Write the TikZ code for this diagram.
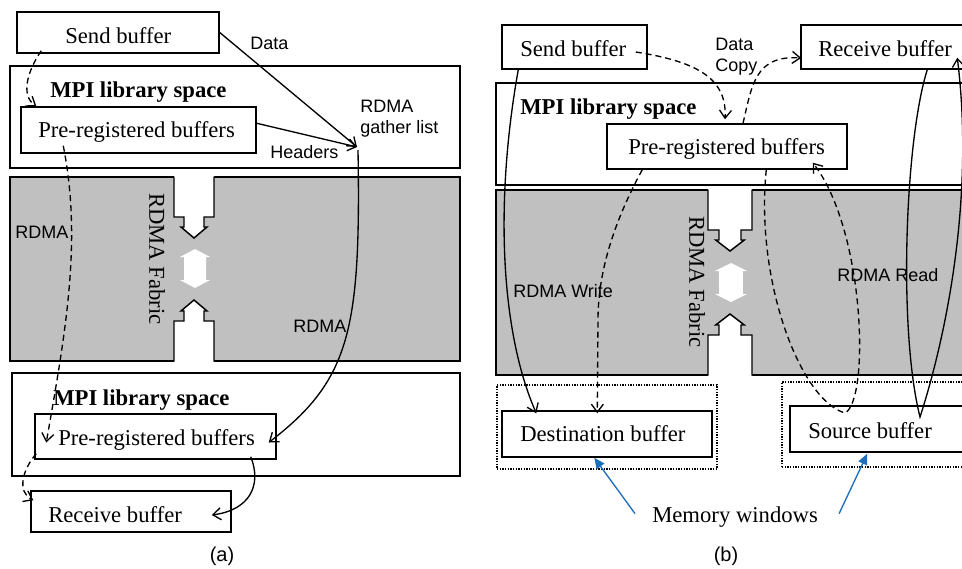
\documentclass[tikz,border=0pt]{standalone}
\usepackage{fontspec}
\setmainfont{Liberation Serif}
\newfontfamily\labelfont{Liberation Sans}
\usetikzlibrary{arrows.meta,calc,fit}

\definecolor{fabricgray}{RGB}{192,192,192}
\definecolor{winblue}{RGB}{30,110,185}

\tikzset{
  box/.style={draw, line width=1.1pt, inner sep=0pt, fill=white},
  fabric/.style={draw, line width=1.1pt, inner sep=0pt, fill=fabricgray},
  window/.style={draw, line width=0.9pt, inner sep=0pt, dash pattern=on 0.9pt off 1.1pt},
  txt/.style={inner sep=0pt, anchor=base west, font=\fontsize{17}{20}\selectfont},
  headtxt/.style={inner sep=0pt, anchor=base west, font=\fontsize{17}{20}\selectfont\bfseries},
  lbl/.style={inner sep=0pt, anchor=base west, font=\labelfont\fontsize{13.5}{16}\selectfont},
  fabtxt/.style={inner sep=0pt, rotate=-90, font=\fontsize{17}{20}\selectfont},
  caption/.style={inner sep=0pt, font=\labelfont\fontsize{15}{18}\selectfont},
  flow/.style={line width=1pt, -{Straight Barb[length=6pt,width=9pt]}},
  dflow/.style={flow, dash pattern=on 4.5pt off 3pt},
  pointer/.style={line width=1pt, draw=winblue, -{Triangle[length=8pt,width=7pt]}, color=winblue},
  plugline/.style={line width=1.1pt, line join=miter},
  plug/.pic={
    \fill[white] (-20,-2) -- (20,-2) -- (20,40) -- (10,40) -- (10,50) -- (13,50)
      -- (0,61) -- (-13,50) -- (-10,50) -- (-10,40) -- (-20,40) -- cycle;
    \draw[plugline] (20,-0.5) -- (20,40) -- (10,40) -- (10,50) -- (13,50)
      -- (0,61) -- (-13,50) -- (-10,50) -- (-10,40) -- (-20,40) -- (-20,-0.5);
  },
  dblarrow/.pic={
    \fill[white] (0,0) -- (15,8) -- (11,8) -- (11,31) -- (15,31) -- (0,39)
      -- (-15,31) -- (-11,31) -- (-11,8) -- (-15,8) -- cycle;
  }
}

\begin{document}
\begin{tikzpicture}[x=0.75pt,y=-0.75pt]
  \clip (0,0) rectangle (962,568);
  \fill[white] (0,0) rectangle (962,568);

  % ---------------- (a) eager protocol over pre-registered buffers ----------------
  \node[box, fit={(10,66) (460,168)}] (mpiA) {};
  \node[fabric, fit={(10,177) (460,361)}] (fabA) {};
  \node[box, fit={(12,373) (460,476)}] (mpiA2) {};
  \node[box, fit={(17,12) (219,53)}] (sendA) {};
  \node[box, fit={(21,107) (256,153)}] (preA) {};
  \node[box, fit={(35,414) (276,459)}] (preA2) {};
  \node[box, fit={(31,491) (231,532)}] (recvA) {};

  \pic at (194,177) {plug};
  \pic[yscale=-1] at (194,361) {plug};
  \pic at (195,249) {dblarrow};

  \node[txt] at (65,43) {Send buffer};
  \node[headtxt] at (50,97) {MPI library space};
  \node[txt] at (38,137) {Pre-registered buffers};
  \node[fabtxt] at (157,259) {RDMA Fabric};
  \node[headtxt] at (53,405) {MPI library space};
  \node[txt] at (58,445) {Pre-registered buffers};
  \node[txt] at (48,522) {Receive buffer};
  \node[caption] at (222,556) {(a)};

  \node[lbl] at (250,49) {Data};
  \node[lbl] at (360,112) {RDMA};
  \node[lbl] at (360,133) {gather list};
  \node[lbl] at (270,158) {Headers};
  \node[lbl] at (15,238) {RDMA};
  \node[lbl] at (293,332) {RDMA};

  \coordinate (gather) at (357,147);

  \draw[dflow] ($(sendA.south west)+(25,-3)$) .. controls (28,70) and (20,95) .. ($(preA.north west)+(16,0)$);
  \draw[flow] (sendA.east) -- (gather);
  \draw[flow] ($(preA.north east)+(0,17)$) -- (gather);
  \draw[flow] ($(gather)+(1,3)$) .. controls (361,330) and (350,380) .. ($(preA2.east)+(-8,6)$);
  \draw[dflow] ($(preA.south west)+(43,-8)$) .. controls (82,240) and (66,330) .. ($(preA2.west)+(12,6)$);
  \draw[dflow] ($(preA2.south west)+(2,-6)$) .. controls (22,470) and (17,492) .. ($(recvA.north west)+(3,10)$);
  \draw[flow] ($(preA2.south east)+(-26,-3)$) .. controls (262,485) and (250,510) .. ($(recvA.east)+(-20,3.5)$);

  % ---------------- (b) one-sided RDMA with memory windows ----------------
  \node[box, fit={(496,83) (975,185)}] (mpiB) {};
  \node[fabric, fit={(496,190) (975,375)}] (fabB) {};
  \node[box, fit={(502,25) (647,69)}] (sendB) {};
  \node[box, fit={(801,25) (975,69)}] (recvB) {};
  \node[box, fit={(607,124) (847,169)}] (preB) {};
  \node[window, fit={(497,385) (717,469)}] (winL) {};
  \node[window, fit={(782,382) (975,467)}] (winR) {};
  \node[box, fit={(502,411) (712,457)}] (destB) {};
  \node[box, fit={(790,406) (975,452)}] (srcB) {};

  \pic[xscale=1.1] at (730,190) {plug};
  \pic[xscale=1.1, yscale=-1] at (730,375) {plug};
  \pic[xscale=1.07] at (731,263) {dblarrow};

  \node[txt] at (520,56) {Send buffer};
  \node[txt] at (818,56) {Receive buffer};
  \node[headtxt] at (520,114) {MPI library space};
  \node[txt] at (628,154) {Pre-registered buffers};
  \node[fabtxt] at (697,282) {RDMA Fabric};
  \node[txt] at (520,441) {Destination buffer};
  \node[txt] at (808,438) {Source buffer};
  \node[txt] (memtxt) at (652,522) {Memory windows};
  \node[caption] at (726,556) {(b)};

  \node[lbl] at (715,50) {Data};
  \node[lbl] at (715,71) {Copy};
  \node[lbl] at (513,297) {RDMA Write};
  \node[lbl] at (837,281) {RDMA Read};

  \coordinate (readturn) at (845,413);
  \coordinate (srcturn) at (920,417);

  \draw[flow] ($(sendB.south west)+(17,0)$) .. controls (495,200) and (500,330) .. ($(destB.north west)+(35,3)$);
  \draw[dflow] ($(sendB.east)+(-12,5)$) .. controls (700,62) and (727,80) .. ($(preB.north)+(-2,-4)$);
  \draw[dflow] ($(preB.north)+(16,0)$) .. controls (752,85) and (755,55) .. ($(recvB.west)+(1,11)$);
  \draw[dflow] ($(preB.south west)+(36,0)$) .. controls (615,220) and (598,270) .. (598,320) -- ($(destB.north west)+(96,3)$);
  \draw[dflow] ($(preB.south west)+(160,0)$) .. controls (755,280) and (800,400) .. (readturn)
    .. controls (870,400) and (865,230) .. ($(preB.south east)+(-35,-7)$);
  \draw[flow] ($(recvB.south west)+(127,0)$) .. controls (905,140) and (898,330) .. (srcturn)
    .. controls (945,340) and (975,200) .. ($(recvB.south west)+(157,-12)$);

  \draw[pointer] ($(memtxt.west)+(-17,-3)$) -- ($(destB.south west)+(93,0)$);
  \draw[pointer] ($(memtxt.east)+(21,-3)$) -- ($(srcB.south west)+(78,1)$);
\end{tikzpicture}
\end{document}
